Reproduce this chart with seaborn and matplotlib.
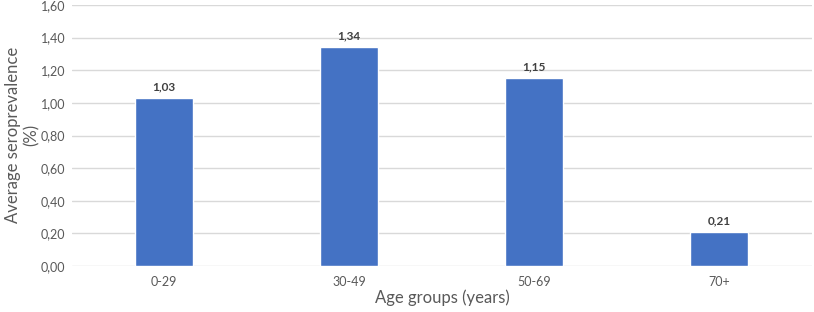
import numpy as np
import pandas as pd
import seaborn as sns
import matplotlib.pyplot as plt
from matplotlib.ticker import FuncFormatter

# Chart data
age_groups = ['0-29', '30-49', '50-69', '70+']
seroprevalence = [1.03, 1.34, 1.15, 0.21]
y_ticks = [0.0, 0.2, 0.4, 0.6, 0.8, 1.0, 1.2, 1.4, 1.6]


def main():
    data = pd.DataFrame({'age': age_groups, 'value': seroprevalence})

    sns.set_style('white')
    plt.rcParams['font.family'] = ['Lato', 'DejaVu Sans']

    fig = plt.figure(figsize=(8.14, 3.12), dpi=100)
    ax = fig.add_axes([0.088, 0.147, 0.909, 0.837])

    sns.barplot(x='age', y='value', data=data, color='#4472C4',
                saturation=1, width=0.31, ax=ax, zorder=3)

    ax.set_ylim(0, 1.6)
    ax.set_yticks(y_ticks)
    ax.yaxis.set_major_formatter(FuncFormatter(lambda v, _: f'{v:.2f}'.replace('.', ',')))
    ax.grid(axis='y', color='#D9D9D9', linewidth=1, zorder=0)
    ax.set_xlim(-0.5, 3.5)
    for s in ax.spines.values():
        s.set_visible(False)
    ax.tick_params(axis='both', length=0, labelsize=9, labelcolor='#595959')
    ax.tick_params(axis='y', pad=4.5)
    ax.tick_params(axis='x', pad=7)

    for i, v in enumerate(seroprevalence):
        ax.text(i, v + 0.035, f'{v:.2f}'.replace('.', ','), ha='center', va='bottom',
                fontsize=8.5, fontweight='bold', color='#404040')

    ax.set_xlabel('')
    ax.set_ylabel('')
    fig.text(0.543, 1 - 298 / 312, 'Age groups (years)', fontsize=12,
             color='#595959', ha='center', va='center')
    fig.text(22 / 814, 1 - 135 / 312, 'Average seroprevalence\n(%)', fontsize=12,
             color='#595959', ha='center', va='center', rotation=90,
             linespacing=1.2)

    fig.savefig('out.png', dpi=100)


if __name__ == '__main__':
    main()
